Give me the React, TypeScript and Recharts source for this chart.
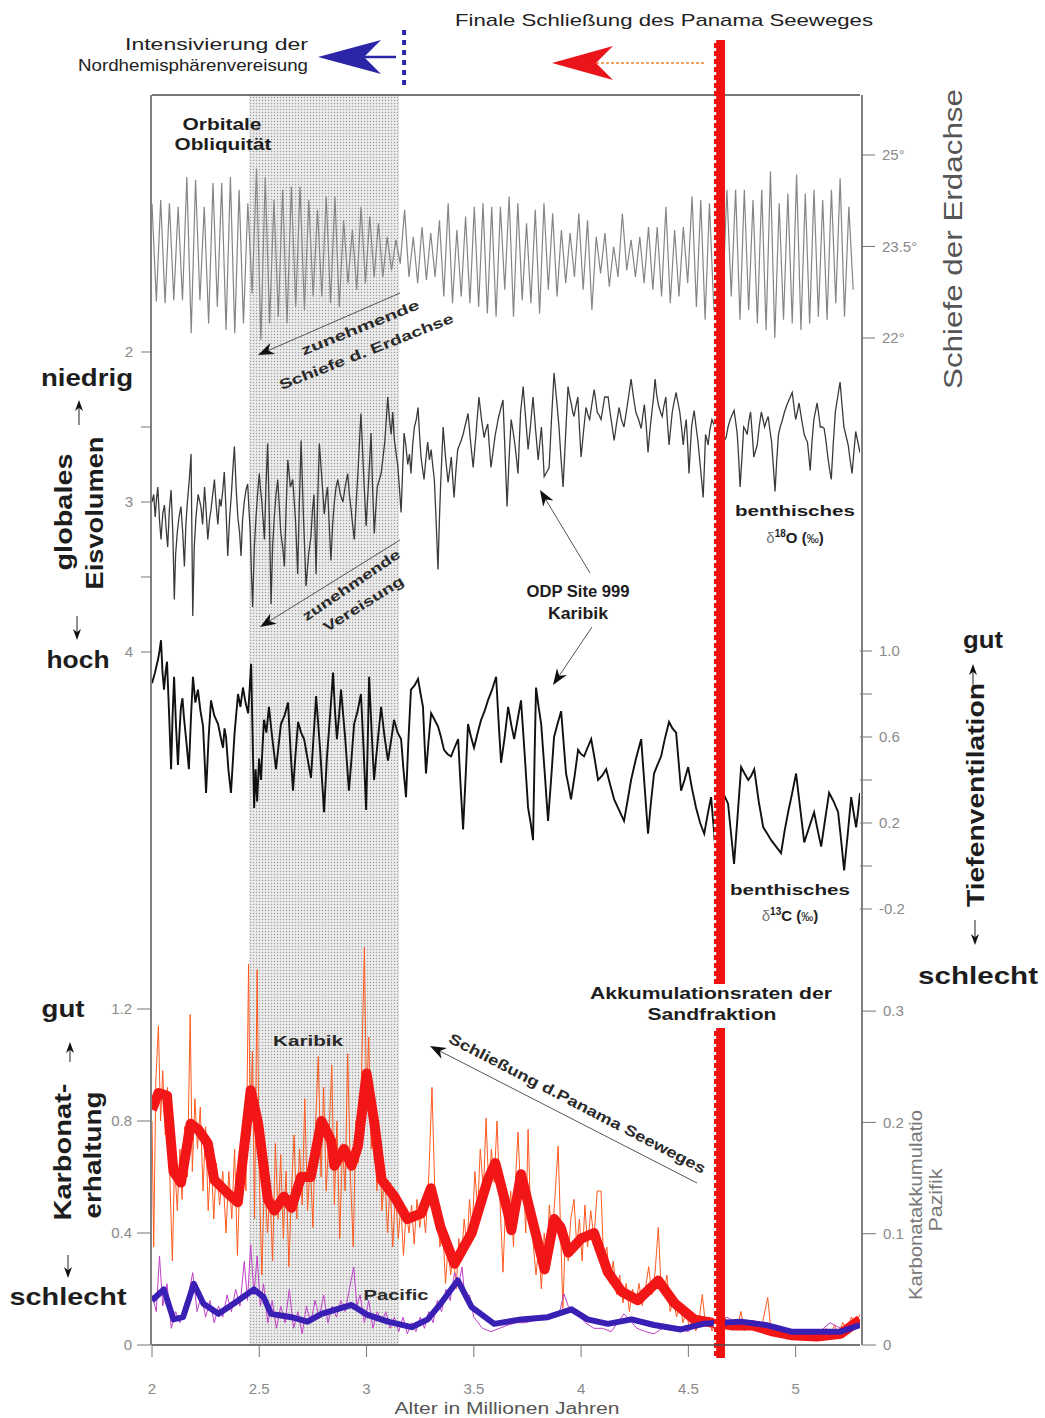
import React from 'react'
import { ComposedChart, Line, XAxis, YAxis, ReferenceArea, ReferenceLine } from 'recharts'

const SANS = '"Liberation Sans", Arial, Helvetica, sans-serif'

// x axis: age in Myr
const AGE_DOMAIN: [number, number] = [2, 5.3]
const AGE_TICKS = [2, 2.5, 3, 3.5, 4, 4.5, 5]

// y domains chosen so each record sits in its own band of the stacked figure
const OBLIQ_DOMAIN: [number, number] = [5.4918, 25.9836]
const D18O_DOMAIN: [number, number] = [0.2867, 8.62]
const D13C_DOMAIN: [number, number] = [-2.228, 3.586]
const KARB_DOMAIN: [number, number] = [0, 4.4643]
const PAC_DOMAIN: [number, number] = [0, 1.1231]

const OBLIQ_TICKS = [22, 23.5, 25]
const D18O_TICKS = [2, 2.5, 3, 3.5, 4]
const D13C_TICKS = [-0.2, 0, 0.2, 0.4, 0.6, 0.8, 1.0]
const D13C_LABELED = [-0.2, 0.2, 0.6, 1.0]
const KARB_TICKS = [0, 0.4, 0.8, 1.2]
const PAC_TICKS = [0, 0.1, 0.2, 0.3]

// obliquity: one max and one min per ~41 kyr cycle, degrees
const OBLIQ_START = 2.0
const OBLIQ_HALF_STEP = 0.0203
const OBLIQ_PEAKS = [
  24.2, 24.26, 24.21, 24.15, 24.64, 24.59, 24.15, 24.54, 24.54, 24.64,
  24.43, 24.21, 24.78, 24.64, 24.26, 24.43, 24.48, 24.48, 24.26, 24.1,
  24.32, 24.32, 23.93, 23.77, 24.15, 23.99, 23.88, 23.66, 23.61, 24.1,
  23.66, 23.82, 23.72, 23.93, 24.21, 23.77, 23.99, 24.15, 24.21, 24.15,
  24.15, 24.32, 24.21, 23.88, 24.1, 24.21, 24.04, 23.77, 23.72, 24.04,
  23.93, 23.66, 23.72, 23.5, 24.04, 23.61, 23.66, 23.82, 23.82, 24.15,
  23.77, 23.82, 24.32, 24.26, 24.21, 24.15, 24.43, 24.43, 24.43, 24.26,
  24.43, 24.73, 24.21, 24.37, 24.68, 24.37, 24.43, 24.26, 24.43, 24.62,
  24.15,
]
const OBLIQ_TROUGHS = [
  22.6, 22.57, 22.62, 22.62, 22.08, 22.62, 22.24, 22.51, 22.13, 22.08,
  22.24, 22.73, 21.97, 22.24, 22.35, 22.24, 22.51, 22.46, 22.68, 22.68,
  22.57, 22.51, 22.9, 22.79, 22.9, 23.0, 23.0, 23.11, 23.22, 23.0,
  22.9, 22.95, 23.0, 22.68, 22.57, 22.68, 22.57, 22.51, 22.4, 22.35,
  22.79, 22.35, 22.62, 22.57, 22.4, 22.79, 22.68, 22.9, 23.0, 22.79,
  22.46, 23.06, 22.84, 23.0, 23.11, 23.0, 22.9, 22.79, 22.68, 22.57,
  22.68, 22.9, 22.51, 22.3, 22.46, 22.57, 22.68, 22.3, 22.46, 22.24,
  22.13, 22.0, 22.3, 22.24, 22.13, 22.24, 22.35, 22.3, 22.57, 22.35,
  22.79,
]

// benthic d18O (per mil), [age, value]
const D18O: [number, number][] = [
  [2.0, 3.0], [2.008, 2.95], [2.015, 3.1], [2.021, 2.98], [2.027, 2.9], [2.035, 3.12], [2.042, 3.25],
  [2.05, 3.08], [2.058, 3.02], [2.066, 3.18], [2.073, 3.3], [2.081, 3.05], [2.089, 2.92], [2.097, 3.2],
  [2.104, 3.65], [2.11, 3.35], [2.118, 3.2], [2.126, 3.1], [2.135, 3.03], [2.143, 3.2], [2.151, 3.43],
  [2.158, 3.15], [2.165, 3.0], [2.174, 2.85], [2.182, 2.68], [2.19, 3.76], [2.197, 3.3], [2.205, 3.1],
  [2.215, 2.95], [2.228, 3.03], [2.236, 3.15], [2.245, 2.9], [2.252, 3.05], [2.26, 3.25], [2.268, 3.12],
  [2.275, 3.05], [2.283, 2.95], [2.291, 2.85], [2.299, 3.02], [2.307, 3.15], [2.315, 2.98], [2.322, 3.03],
  [2.33, 2.92], [2.337, 2.8], [2.345, 3.05], [2.353, 3.36], [2.362, 3.1], [2.37, 2.95], [2.377, 2.78],
  [2.384, 2.63], [2.392, 2.9], [2.4, 3.1], [2.408, 3.2], [2.415, 3.36], [2.422, 3.12], [2.43, 3.0],
  [2.438, 2.92], [2.446, 2.88], [2.452, 3.05], [2.458, 3.2], [2.463, 3.45], [2.469, 3.7], [2.477, 3.3],
  [2.485, 3.1], [2.492, 2.95], [2.5, 2.81], [2.506, 2.92], [2.512, 3.0], [2.518, 3.12], [2.524, 3.25],
  [2.531, 2.9], [2.539, 2.61], [2.547, 3.1], [2.555, 3.68], [2.562, 3.3], [2.57, 3.1], [2.578, 2.95],
  [2.586, 2.85], [2.593, 3.02], [2.6, 3.2], [2.609, 3.3], [2.617, 3.43], [2.625, 3.05], [2.633, 2.72],
  [2.645, 2.9], [2.656, 2.85], [2.662, 2.98], [2.668, 3.1], [2.674, 3.3], [2.679, 3.48], [2.687, 3.0],
  [2.695, 2.59], [2.706, 3.1], [2.718, 3.56], [2.73, 3.35], [2.741, 3.23], [2.748, 3.05], [2.755, 2.95],
  [2.76, 3.2], [2.765, 3.48], [2.772, 3.0], [2.78, 2.61], [2.792, 2.85], [2.803, 3.08], [2.81, 2.98],
  [2.818, 2.9], [2.826, 3.15], [2.834, 3.39], [2.842, 3.15], [2.85, 3.0], [2.858, 2.9], [2.866, 2.85],
  [2.878, 2.95], [2.89, 3.0], [2.9, 2.9], [2.912, 2.81], [2.92, 2.95], [2.928, 3.05], [2.935, 3.15],
  [2.943, 3.25], [2.952, 3.0], [2.96, 2.8], [2.967, 2.6], [2.974, 2.41], [2.986, 2.8], [2.998, 3.16],
  [3.01, 2.85], [3.021, 2.54], [3.028, 2.9], [3.036, 3.21], [3.043, 3.05], [3.05, 2.9], [3.06, 2.85],
  [3.068, 2.81], [3.077, 2.7], [3.085, 2.6], [3.092, 2.45], [3.099, 2.3], [3.107, 2.45], [3.115, 2.55],
  [3.122, 2.4], [3.13, 2.59], [3.138, 2.68], [3.145, 2.75], [3.153, 2.9], [3.161, 3.07], [3.168, 2.8],
  [3.175, 2.54], [3.183, 2.62], [3.192, 2.75], [3.2, 2.68], [3.207, 2.81], [3.215, 2.62], [3.223, 2.5],
  [3.232, 2.45], [3.24, 2.37], [3.247, 2.55], [3.254, 2.7], [3.261, 2.78], [3.268, 2.85], [3.276, 2.72],
  [3.285, 2.6], [3.293, 2.72], [3.301, 2.65], [3.308, 2.75], [3.316, 2.85], [3.325, 3.15], [3.333, 3.45],
  [3.34, 3.1], [3.345, 2.9], [3.351, 2.7], [3.357, 2.5], [3.368, 2.7], [3.38, 2.87], [3.388, 2.78],
  [3.395, 2.7], [3.402, 2.85], [3.408, 2.97], [3.416, 2.8], [3.425, 2.65], [3.433, 2.62], [3.441, 2.59],
  [3.45, 2.55], [3.458, 2.5], [3.465, 2.46], [3.473, 2.41], [3.485, 2.6], [3.497, 2.77], [3.504, 2.65],
  [3.51, 2.55], [3.517, 2.42], [3.524, 2.3], [3.536, 2.45], [3.548, 2.57], [3.556, 2.52], [3.565, 2.48],
  [3.572, 2.62], [3.58, 2.77], [3.59, 2.66], [3.6, 2.55], [3.607, 2.5], [3.613, 2.45], [3.625, 2.38],
  [3.636, 2.32], [3.645, 2.65], [3.655, 3.03], [3.664, 2.72], [3.674, 2.45], [3.682, 2.52], [3.69, 2.6],
  [3.698, 2.7], [3.706, 2.81], [3.712, 2.6], [3.718, 2.4], [3.724, 2.32], [3.73, 2.23], [3.742, 2.45],
  [3.753, 2.65], [3.765, 2.48], [3.776, 2.3], [3.788, 2.52], [3.8, 2.72], [3.808, 2.6], [3.815, 2.5],
  [3.822, 2.66], [3.828, 2.83], [3.84, 2.8], [3.851, 2.77], [3.862, 2.45], [3.874, 2.14], [3.886, 2.32],
  [3.897, 2.5], [3.906, 2.7], [3.916, 2.9], [3.928, 2.55], [3.939, 2.23], [3.947, 2.3], [3.955, 2.35],
  [3.961, 2.4], [3.967, 2.43], [3.976, 2.36], [3.985, 2.3], [3.992, 2.5], [4.0, 2.7], [4.012, 2.52],
  [4.023, 2.37], [4.032, 2.42], [4.04, 2.45], [4.05, 2.35], [4.061, 2.25], [4.068, 2.32], [4.075, 2.4],
  [4.084, 2.42], [4.093, 2.45], [4.101, 2.38], [4.11, 2.3], [4.118, 2.3], [4.126, 2.3], [4.133, 2.38],
  [4.14, 2.45], [4.147, 2.52], [4.154, 2.59], [4.165, 2.48], [4.177, 2.37], [4.188, 2.45], [4.2, 2.5],
  [4.216, 2.35], [4.233, 2.18], [4.244, 2.3], [4.255, 2.4], [4.268, 2.45], [4.28, 2.51], [4.288, 2.42],
  [4.295, 2.35], [4.304, 2.5], [4.312, 2.67], [4.321, 2.52], [4.33, 2.4], [4.338, 2.3], [4.345, 2.18],
  [4.352, 2.28], [4.36, 2.35], [4.37, 2.4], [4.378, 2.43], [4.386, 2.36], [4.395, 2.3], [4.402, 2.46],
  [4.41, 2.62], [4.418, 2.5], [4.425, 2.4], [4.434, 2.33], [4.443, 2.27], [4.452, 2.34], [4.46, 2.4],
  [4.468, 2.5], [4.476, 2.62], [4.483, 2.52], [4.49, 2.45], [4.497, 2.62], [4.503, 2.81], [4.509, 2.65],
  [4.515, 2.5], [4.521, 2.44], [4.527, 2.39], [4.536, 2.5], [4.545, 2.6], [4.557, 2.78], [4.569, 2.97],
  [4.575, 2.75], [4.58, 2.55], [4.586, 2.58], [4.592, 2.62], [4.6, 2.52], [4.61, 2.45], [4.618, 2.48],
  [4.625, 2.51], [4.638, 2.58], [4.65, 2.65], [4.663, 2.6], [4.676, 2.57], [4.685, 2.5], [4.695, 2.45],
  [4.704, 2.42], [4.713, 2.39], [4.72, 2.46], [4.728, 2.55], [4.735, 2.72], [4.741, 2.9], [4.75, 2.7],
  [4.758, 2.5], [4.766, 2.52], [4.774, 2.55], [4.782, 2.46], [4.79, 2.4], [4.798, 2.55], [4.805, 2.7],
  [4.813, 2.66], [4.821, 2.62], [4.83, 2.5], [4.84, 2.4], [4.848, 2.45], [4.855, 2.5], [4.864, 2.46],
  [4.872, 2.43], [4.88, 2.52], [4.888, 2.6], [4.896, 2.76], [4.904, 2.93], [4.912, 2.72], [4.92, 2.55],
  [4.928, 2.5], [4.937, 2.46], [4.948, 2.4], [4.96, 2.35], [4.972, 2.31], [4.984, 2.27], [4.992, 2.36],
  [5.0, 2.45], [5.008, 2.4], [5.016, 2.34], [5.028, 2.45], [5.04, 2.55], [5.048, 2.58], [5.055, 2.6],
  [5.062, 2.7], [5.068, 2.79], [5.076, 2.6], [5.085, 2.45], [5.092, 2.4], [5.1, 2.34], [5.108, 2.42],
  [5.115, 2.5], [5.124, 2.5], [5.133, 2.51], [5.142, 2.6], [5.15, 2.7], [5.158, 2.78], [5.166, 2.85],
  [5.175, 2.62], [5.185, 2.4], [5.196, 2.3], [5.207, 2.2], [5.216, 2.35], [5.225, 2.5], [5.235, 2.56],
  [5.245, 2.62], [5.254, 2.72], [5.263, 2.81], [5.272, 2.66], [5.28, 2.53], [5.29, 2.6], [5.3, 2.67],
]

// benthic d13C (per mil), [age, value]
const D13C: [number, number][] = [
  [2.0, 0.85], [2.014, 0.9], [2.028, 0.96], [2.035, 1.0], [2.042, 1.05], [2.049, 0.9], [2.056, 0.82],
  [2.063, 0.9], [2.07, 0.95], [2.08, 0.7], [2.089, 0.45], [2.096, 0.7], [2.103, 0.88], [2.112, 0.65],
  [2.121, 0.47], [2.128, 0.62], [2.135, 0.74], [2.142, 0.78], [2.149, 0.69], [2.16, 0.58], [2.172, 0.45],
  [2.182, 0.7], [2.191, 0.88], [2.202, 0.76], [2.214, 0.82], [2.226, 0.72], [2.238, 0.65], [2.245, 0.5],
  [2.252, 0.34], [2.264, 0.6], [2.275, 0.77], [2.29, 0.7], [2.308, 0.66], [2.32, 0.6], [2.331, 0.55],
  [2.338, 0.64], [2.345, 0.6], [2.356, 0.45], [2.368, 0.34], [2.385, 0.62], [2.401, 0.8], [2.412, 0.74],
  [2.424, 0.83], [2.436, 0.76], [2.448, 0.71], [2.455, 0.82], [2.462, 0.94], [2.469, 0.6], [2.476, 0.27],
  [2.483, 0.45], [2.49, 0.3], [2.499, 0.5], [2.508, 0.4], [2.515, 0.55], [2.522, 0.68], [2.533, 0.62],
  [2.545, 0.74], [2.56, 0.6], [2.578, 0.45], [2.59, 0.56], [2.601, 0.66], [2.618, 0.7], [2.634, 0.76],
  [2.645, 0.55], [2.657, 0.35], [2.669, 0.52], [2.681, 0.67], [2.695, 0.62], [2.709, 0.59], [2.725, 0.5],
  [2.741, 0.41], [2.753, 0.6], [2.765, 0.79], [2.783, 0.55], [2.802, 0.25], [2.815, 0.5], [2.83, 0.7],
  [2.844, 0.9], [2.853, 0.72], [2.862, 0.59], [2.872, 0.7], [2.881, 0.82], [2.9, 0.6], [2.918, 0.35],
  [2.93, 0.5], [2.942, 0.66], [2.958, 0.72], [2.974, 0.8], [2.986, 0.55], [2.998, 0.26], [3.005, 0.55],
  [3.012, 0.88], [3.024, 0.62], [3.035, 0.4], [3.052, 0.58], [3.068, 0.74], [3.084, 0.6], [3.1, 0.49],
  [3.114, 0.58], [3.128, 0.68], [3.145, 0.62], [3.161, 0.59], [3.172, 0.45], [3.184, 0.32], [3.195, 0.58],
  [3.207, 0.82], [3.224, 0.84], [3.24, 0.87], [3.252, 0.8], [3.263, 0.74], [3.27, 0.58], [3.277, 0.43],
  [3.289, 0.58], [3.301, 0.71], [3.317, 0.68], [3.333, 0.65], [3.347, 0.6], [3.361, 0.54], [3.378, 0.52],
  [3.394, 0.51], [3.41, 0.55], [3.427, 0.59], [3.438, 0.38], [3.45, 0.17], [3.462, 0.42], [3.473, 0.66],
  [3.487, 0.6], [3.501, 0.55], [3.518, 0.62], [3.534, 0.68], [3.55, 0.72], [3.566, 0.77], [3.585, 0.82],
  [3.604, 0.88], [3.615, 0.68], [3.627, 0.48], [3.644, 0.6], [3.66, 0.74], [3.674, 0.66], [3.688, 0.59],
  [3.704, 0.68], [3.72, 0.77], [3.737, 0.52], [3.753, 0.27], [3.765, 0.2], [3.776, 0.12], [3.783, 0.5],
  [3.79, 0.83], [3.802, 0.74], [3.814, 0.66], [3.83, 0.44], [3.846, 0.21], [3.86, 0.4], [3.874, 0.6],
  [3.89, 0.66], [3.907, 0.72], [3.918, 0.58], [3.93, 0.43], [3.942, 0.37], [3.953, 0.31], [3.97, 0.42],
  [3.986, 0.54], [4.0, 0.52], [4.014, 0.51], [4.03, 0.55], [4.047, 0.59], [4.063, 0.5], [4.079, 0.4],
  [4.098, 0.42], [4.117, 0.45], [4.135, 0.38], [4.154, 0.31], [4.177, 0.26], [4.2, 0.21], [4.216, 0.3],
  [4.233, 0.4], [4.256, 0.5], [4.28, 0.59], [4.296, 0.37], [4.312, 0.15], [4.326, 0.3], [4.34, 0.43],
  [4.356, 0.47], [4.373, 0.51], [4.39, 0.59], [4.41, 0.67], [4.426, 0.64], [4.443, 0.62], [4.455, 0.48],
  [4.466, 0.35], [4.482, 0.4], [4.499, 0.46], [4.517, 0.36], [4.536, 0.27], [4.555, 0.2], [4.574, 0.15],
  [4.59, 0.24], [4.606, 0.32], [4.618, 0.18], [4.629, 0.03], [4.643, 0.2], [4.657, 0.35], [4.671, 0.32],
  [4.685, 0.29], [4.699, 0.15], [4.713, 0.01], [4.73, 0.24], [4.746, 0.46], [4.762, 0.43], [4.779, 0.4],
  [4.793, 0.42], [4.807, 0.45], [4.828, 0.3], [4.849, 0.18], [4.868, 0.15], [4.886, 0.12], [4.909, 0.09],
  [4.932, 0.06], [4.948, 0.16], [4.965, 0.25], [4.984, 0.34], [5.002, 0.43], [5.021, 0.27], [5.04, 0.11],
  [5.063, 0.18], [5.086, 0.25], [5.102, 0.17], [5.119, 0.09], [5.138, 0.22], [5.156, 0.34], [5.177, 0.3],
  [5.198, 0.25], [5.212, 0.12], [5.226, -0.02], [5.243, 0.15], [5.259, 0.32], [5.27, 0.25], [5.282, 0.18],
  [5.292, 0.26], [5.3, 0.34],
]

// Karibik carbonate, raw samples and smoothed curve, [age, value]
const KARIBIK_RAW: [number, number][] = [
  [2.0, 0.8], [2.008, 0.35], [2.018, 0.95], [2.03, 1.14], [2.04, 0.8], [2.05, 0.98], [2.062, 0.75],
  [2.072, 0.92], [2.085, 0.55], [2.095, 0.3], [2.105, 0.65], [2.118, 0.48], [2.13, 0.7], [2.14, 0.52],
  [2.152, 0.78], [2.165, 0.6], [2.178, 1.18], [2.188, 0.62], [2.2, 0.88], [2.212, 0.7], [2.225, 0.85],
  [2.238, 0.55], [2.25, 0.78], [2.262, 0.48], [2.275, 0.68], [2.288, 0.45], [2.3, 0.65], [2.315, 0.5],
  [2.33, 0.62], [2.345, 0.4], [2.358, 0.62], [2.372, 0.45], [2.385, 0.7], [2.398, 0.32], [2.41, 0.6],
  [2.425, 0.78], [2.438, 0.55], [2.45, 1.36], [2.458, 0.75], [2.468, 1.05], [2.478, 0.45], [2.49, 1.34],
  [2.5, 0.6], [2.512, 0.25], [2.525, 0.62], [2.538, 0.4], [2.55, 0.55], [2.562, 0.3], [2.575, 0.72],
  [2.588, 0.45], [2.6, 0.68], [2.612, 0.38], [2.625, 0.62], [2.638, 0.28], [2.65, 0.55], [2.662, 0.75],
  [2.675, 0.45], [2.688, 0.7], [2.7, 0.5], [2.712, 0.88], [2.725, 0.48], [2.738, 0.65], [2.75, 0.42],
  [2.762, 0.78], [2.775, 1.03], [2.788, 0.6], [2.8, 0.92], [2.812, 0.55], [2.825, 0.75], [2.838, 1.0],
  [2.85, 0.5], [2.862, 0.8], [2.875, 0.38], [2.888, 0.72], [2.9, 0.55], [2.912, 1.04], [2.925, 0.6],
  [2.938, 0.35], [2.95, 0.8], [2.962, 0.65], [2.975, 0.9], [2.99, 1.42], [3.0, 0.85], [3.01, 1.1],
  [3.022, 0.7], [3.035, 0.88], [3.048, 0.55], [3.06, 0.75], [3.072, 0.48], [3.085, 0.62], [3.098, 0.4],
  [3.11, 0.58], [3.122, 0.35], [3.135, 0.55], [3.148, 0.38], [3.16, 0.5], [3.172, 0.32], [3.185, 0.48],
  [3.198, 0.4], [3.21, 0.5], [3.222, 0.36], [3.235, 0.52], [3.248, 0.42], [3.262, 0.5], [3.275, 0.4],
  [3.29, 0.6], [3.305, 0.92], [3.318, 0.55], [3.33, 0.48], [3.342, 0.35], [3.355, 0.42], [3.368, 0.22],
  [3.38, 0.35], [3.392, 0.25], [3.405, 0.33], [3.418, 0.2], [3.43, 0.38], [3.442, 0.3], [3.455, 0.45],
  [3.468, 0.35], [3.48, 0.52], [3.492, 0.4], [3.505, 0.62], [3.518, 0.48], [3.53, 0.7], [3.545, 0.55],
  [3.557, 0.81], [3.57, 0.55], [3.582, 0.7], [3.595, 0.58], [3.608, 0.8], [3.62, 0.55], [3.636, 0.26],
  [3.648, 0.5], [3.66, 0.42], [3.672, 0.55], [3.685, 0.35], [3.695, 0.6], [3.706, 0.76], [3.718, 0.55],
  [3.73, 0.62], [3.742, 0.4], [3.753, 0.77], [3.765, 0.45], [3.778, 0.35], [3.79, 0.25], [3.802, 0.35],
  [3.815, 0.2], [3.828, 0.4], [3.84, 0.3], [3.852, 0.5], [3.865, 0.38], [3.88, 0.55], [3.893, 0.71],
  [3.905, 0.4], [3.915, 0.13], [3.928, 0.42], [3.94, 0.3], [3.952, 0.45], [3.967, 0.52], [3.98, 0.35],
  [3.992, 0.45], [4.005, 0.3], [4.018, 0.5], [4.03, 0.35], [4.045, 0.48], [4.06, 0.38], [4.075, 0.55],
  [4.093, 0.55], [4.105, 0.3], [4.12, 0.35], [4.135, 0.22], [4.15, 0.3], [4.165, 0.18], [4.18, 0.25],
  [4.195, 0.15], [4.21, 0.22], [4.225, 0.12], [4.24, 0.2], [4.255, 0.15], [4.27, 0.22], [4.285, 0.14],
  [4.3, 0.2], [4.315, 0.28], [4.33, 0.18], [4.345, 0.26], [4.36, 0.42], [4.372, 0.22], [4.385, 0.18],
  [4.4, 0.25], [4.415, 0.12], [4.43, 0.16], [4.445, 0.1], [4.46, 0.15], [4.475, 0.08], [4.49, 0.12],
  [4.505, 0.06], [4.52, 0.1], [4.535, 0.05], [4.55, 0.09], [4.565, 0.18], [4.58, 0.07], [4.595, 0.1],
  [4.61, 0.05], [4.63, 0.09], [4.65, 0.06], [4.67, 0.1], [4.69, 0.06], [4.71, 0.09], [4.73, 0.07],
  [4.745, 0.12], [4.76, 0.05], [4.775, 0.09], [4.79, 0.06], [4.805, 0.08], [4.84, 0.06], [4.87, 0.17],
  [4.885, 0.05], [4.9, 0.07], [4.92, 0.03], [4.94, 0.05], [4.96, 0.02], [4.98, 0.04], [5.0, 0.02],
  [5.02, 0.05], [5.04, 0.02], [5.06, 0.04], [5.08, 0.03], [5.1, 0.05], [5.12, 0.02], [5.14, 0.06],
  [5.16, 0.03], [5.18, 0.07], [5.2, 0.04], [5.22, 0.08], [5.24, 0.05], [5.26, 0.1], [5.28, 0.07],
  [5.3, 0.11],
]

const KARIBIK_SMOOTH: [number, number][] = [
  [2.0, 0.84], [2.03, 0.9], [2.07, 0.89], [2.1, 0.62], [2.135, 0.58], [2.18, 0.79], [2.215, 0.77],
  [2.26, 0.72], [2.29, 0.59], [2.355, 0.54], [2.4, 0.51], [2.46, 0.91], [2.495, 0.79], [2.54, 0.52],
  [2.57, 0.48], [2.615, 0.53], [2.65, 0.49], [2.695, 0.6], [2.74, 0.6], [2.79, 0.8], [2.835, 0.73],
  [2.85, 0.64], [2.895, 0.7], [2.93, 0.64], [2.96, 0.71], [3.0, 0.97], [3.035, 0.8], [3.07, 0.59],
  [3.13, 0.53], [3.19, 0.45], [3.255, 0.47], [3.3, 0.56], [3.345, 0.42], [3.41, 0.29], [3.49, 0.4],
  [3.565, 0.59], [3.6, 0.65], [3.66, 0.47], [3.675, 0.41], [3.72, 0.61], [3.765, 0.47], [3.83, 0.27],
  [3.875, 0.45], [3.905, 0.42], [3.94, 0.33], [4.0, 0.38], [4.06, 0.4], [4.125, 0.26], [4.19, 0.19],
  [4.265, 0.16], [4.36, 0.23], [4.435, 0.15], [4.53, 0.09], [4.61, 0.08], [4.7, 0.07], [4.8, 0.07],
  [4.885, 0.05], [4.98, 0.035], [5.1, 0.03], [5.21, 0.04], [5.3, 0.09],
]

// Pacific carbonate accumulation, raw samples and smoothed curve, [age, value]
const PACIFIC_RAW: [number, number][] = [
  [2.0, 0.045], [2.02, 0.03], [2.035, 0.08], [2.05, 0.035], [2.07, 0.055], [2.09, 0.015], [2.11, 0.03],
  [2.13, 0.02], [2.15, 0.035], [2.17, 0.045], [2.19, 0.065], [2.21, 0.03], [2.23, 0.045], [2.25, 0.025],
  [2.27, 0.04], [2.29, 0.02], [2.31, 0.035], [2.33, 0.025], [2.35, 0.045], [2.37, 0.03], [2.39, 0.05],
  [2.41, 0.035], [2.43, 0.075], [2.445, 0.04], [2.46, 0.09], [2.475, 0.045], [2.49, 0.08], [2.505, 0.035],
  [2.52, 0.055], [2.54, 0.02], [2.56, 0.04], [2.58, 0.015], [2.6, 0.035], [2.62, 0.02], [2.64, 0.05],
  [2.66, 0.015], [2.68, 0.03], [2.7, 0.01], [2.72, 0.035], [2.74, 0.02], [2.76, 0.04], [2.78, 0.025],
  [2.8, 0.045], [2.82, 0.02], [2.84, 0.035], [2.86, 0.025], [2.88, 0.04], [2.9, 0.03], [2.94, 0.07],
  [2.955, 0.035], [2.97, 0.045], [2.99, 0.02], [3.01, 0.04], [3.03, 0.015], [3.05, 0.03], [3.07, 0.02],
  [3.09, 0.03], [3.11, 0.015], [3.13, 0.025], [3.15, 0.012], [3.17, 0.025], [3.19, 0.01], [3.21, 0.02],
  [3.23, 0.012], [3.25, 0.025], [3.27, 0.015], [3.29, 0.03], [3.31, 0.02], [3.33, 0.04], [3.35, 0.03],
  [3.37, 0.05], [3.39, 0.04], [3.41, 0.065], [3.43, 0.055], [3.445, 0.07], [3.46, 0.04], [3.48, 0.045],
  [3.5, 0.025], [3.54, 0.015], [3.58, 0.012], [3.62, 0.015], [3.66, 0.018], [3.7, 0.02], [3.74, 0.02],
  [3.78, 0.022], [3.82, 0.025], [3.86, 0.025], [3.9, 0.03], [3.92, 0.046], [3.94, 0.035], [3.98, 0.028],
  [4.02, 0.02], [4.06, 0.015], [4.1, 0.015], [4.14, 0.012], [4.2, 0.028], [4.26, 0.015], [4.3, 0.012],
  [4.34, 0.01], [4.4, 0.018], [4.44, 0.016], [4.5, 0.012], [4.56, 0.025], [4.62, 0.015], [4.68, 0.025],
  [4.74, 0.018], [4.8, 0.022], [4.86, 0.01], [4.92, 0.014], [4.98, 0.008], [5.04, 0.014], [5.1, 0.01],
  [5.16, 0.02], [5.22, 0.014], [5.3, 0.018],
]

const PACIFIC_SMOOTH: [number, number][] = [
  [2.0, 0.04], [2.055, 0.05], [2.1, 0.023], [2.145, 0.025], [2.195, 0.055], [2.24, 0.037], [2.31, 0.028],
  [2.38, 0.037], [2.475, 0.05], [2.52, 0.043], [2.555, 0.028], [2.65, 0.025], [2.725, 0.021], [2.79, 0.028],
  [2.93, 0.036], [3.005, 0.027], [3.1, 0.021], [3.21, 0.016], [3.285, 0.023], [3.345, 0.037], [3.425, 0.058],
  [3.49, 0.034], [3.595, 0.019], [3.72, 0.023], [3.845, 0.025], [3.955, 0.032], [4.03, 0.023], [4.125, 0.019],
  [4.235, 0.023], [4.34, 0.018], [4.465, 0.014], [4.57, 0.019], [4.745, 0.021], [4.86, 0.018], [4.98, 0.012],
  [5.21, 0.012], [5.3, 0.018],
]

// event markers
const BAND_AGES: [number, number] = [2.455, 3.15]
const PANAMA_AGE = 4.645
const PANAMA_DASH_AGE = 4.624
const NHG_AGE = 3.175

const toPts = (pairs: [number, number][]) => pairs.map(([age, v]) => ({ age, v }))

const obliqData: { age: number; v: number }[] = []
OBLIQ_PEAKS.forEach((p, i) => {
  obliqData.push({ age: OBLIQ_START + 2 * i * OBLIQ_HALF_STEP, v: p })
  obliqData.push({ age: OBLIQ_START + (2 * i + 1) * OBLIQ_HALF_STEP, v: OBLIQ_TROUGHS[i] })
})

const tickStyle = { fill: '#8a8a8a', fontSize: 15, fontFamily: SANS }
const tickLine = { stroke: '#777', strokeWidth: 1 }
const frame = { stroke: '#4a4a4a', strokeWidth: 1.4 }

const near = (a: number, b: number) => Math.abs(a - b) < 1e-6

function T({ x, y, children, size = 16, weight = 700, anchor = 'middle', rotate, len, fill = '#1d1d1d' }: any) {
  return (
    <text
      x={x}
      y={y}
      fontSize={size}
      fontWeight={weight}
      textAnchor={anchor}
      fill={fill}
      fontFamily={SANS}
      transform={rotate ? `rotate(${rotate} ${x} ${y})` : undefined}
      textLength={len}
      lengthAdjust={len ? 'spacingAndGlyphs' : undefined}
    >
      {children}
    </text>
  )
}

function Arrow({ x1, y1, x2, y2, color = '#555', head = 14, spread = 5, width = 1 }: any) {
  const dx = x2 - x1
  const dy = y2 - y1
  const len = Math.hypot(dx, dy)
  const ux = dx / len
  const uy = dy / len
  const px = -uy
  const py = ux
  const bx = x2 - ux * head
  const by = y2 - uy * head
  const nx = x2 - ux * head * 0.7
  const ny = y2 - uy * head * 0.7
  const pts = [
    [x2, y2],
    [bx + px * spread, by + py * spread],
    [nx, ny],
    [bx - px * spread, by - py * spread],
  ]
    .map((p) => p.join(','))
    .join(' ')
  return (
    <g>
      <line x1={x1} y1={y1} x2={nx} y2={ny} stroke={color} strokeWidth={width} />
      <polygon points={pts} fill="#111" />
    </g>
  )
}

function Annotations() {
  return (
    <svg width={1045} height={1418} style={{ position: 'absolute', left: 0, top: 0, pointerEvents: 'none' }}>
      <T x={664} y={26} size={17} weight={400} len={418} fill="#222">Finale Schließung des Panama Seeweges</T>
      <T x={308} y={50} size={17} weight={400} anchor="end" len={183} fill="#222">Intensivierung der</T>
      <T x={308} y={71} size={17} weight={400} anchor="end" len={230} fill="#222">Nordhemisphärenvereisung</T>

      {/* blue arrow */}
      <line x1={362} y1={57} x2={396} y2={57} stroke="#2b25a8" strokeWidth={2.5} />
      <polygon points="318,57 381,40 364,57 381,74" fill="#2b25a8" />
      {/* red arrow */}
      <line x1={596} y1={63} x2={706} y2={63} stroke="#f0a060" strokeWidth={2} strokeDasharray="3 2" />
      <polygon points="552,63 613,46 596,63 613,80" fill="#ea151b" />

      <T x={222} y={130} size={16} len={79}>Orbitale</T>
      <T x={223} y={150} size={16} len={97}>Obliquität</T>
      <T x={962} y={239} size={26} weight={400} rotate={-90} len={300} fill="#555">Schiefe der Erdachse</T>

      <T x={87} y={386} size={24} len={92}>niedrig</T>
      <Arrow x1={79} y1={425} x2={79} y2={400} head={11} spread={4} color="#222" />
      <T x={72} y={512} size={24} rotate={-90} len={117}>globales</T>
      <T x={103} y={513} size={24} rotate={-90} len={153}>Eisvolumen</T>
      <Arrow x1={77} y1={616} x2={77} y2={640} head={11} spread={4} color="#222" />
      <T x={78} y={668} size={24} len={63}>hoch</T>

      <T x={362} y={332} size={14} rotate={-21.9} len={126} fill="#2a2a2a">zunehmende</T>
      <T x={368} y={356} size={14} rotate={-21.5} len={186} fill="#2a2a2a">Schiefe d. Erdachse</T>
      <Arrow x1={400} y1={293} x2={258} y2={355} head={16} spread={6} />

      <T x={354} y={589} size={14} rotate={-34.4} len={115} fill="#2a2a2a">zunehmende</T>
      <T x={366} y={608} size={14} rotate={-32} len={92} fill="#2a2a2a">Vereisung</T>
      <Arrow x1={400} y1={540} x2={260} y2={627} head={16} spread={6} />

      <T x={795} y={516} size={15} len={120}>benthisches</T>
      <text x={795} y={543} fontSize={15} fontWeight={700} textAnchor="middle" fill="#1d1d1d" fontFamily={SANS}>
        <tspan fontWeight={400} fill="#777">δ</tspan>
        <tspan fontSize={10} dy={-6}>18</tspan>
        <tspan dy={6}>O (</tspan>
        <tspan fontWeight={400} fontSize={12}>‰</tspan>
        <tspan>)</tspan>
      </text>

      <T x={578} y={597} size={16} len={103}>ODP Site 999</T>
      <T x={578} y={619} size={16} len={60}>Karibik</T>
      <Arrow x1={590} y1={573} x2={540} y2={490} head={16} spread={6} />
      <Arrow x1={592} y1={627} x2={553} y2={685} head={16} spread={6} />

      <T x={983} y={648} size={24} len={40}>gut</T>
      <Arrow x1={973} y1={690} x2={973} y2={664} head={11} spread={4} color="#222" />
      <T x={984} y={795} size={24} rotate={-90} len={224}>Tiefenventilation</T>
      <Arrow x1={975} y1={920} x2={975} y2={945} head={11} spread={4} color="#222" />
      <T x={978} y={984} size={24} len={120}>schlecht</T>

      <T x={790} y={895} size={15} len={120}>benthisches</T>
      <text x={790} y={921} fontSize={15} fontWeight={700} textAnchor="middle" fill="#1d1d1d" fontFamily={SANS}>
        <tspan fontWeight={400} fill="#777">δ</tspan>
        <tspan fontSize={10} dy={-6}>13</tspan>
        <tspan dy={6}>C (</tspan>
        <tspan fontWeight={400} fontSize={12}>‰</tspan>
        <tspan>)</tspan>
      </text>

      <T x={711} y={999} size={16} len={242}>Akkumulationsraten der</T>
      <T x={712} y={1020} size={16} len={129}>Sandfraktion</T>

      <T x={63} y={1017} size={24} len={43}>gut</T>
      <Arrow x1={70} y1={1062} x2={70} y2={1042} head={11} spread={4} color="#222" />
      <T x={71} y={1152} size={24} rotate={-90} len={137}>Karbonat-</T>
      <T x={101} y={1155} size={24} rotate={-90} len={127}>erhaltung</T>
      <Arrow x1={68} y1={1255} x2={68} y2={1278} head={11} spread={4} color="#222" />
      <T x={68} y={1305} size={24} len={117}>schlecht</T>

      <T x={308} y={1046} size={15} len={70} fill="#2a2a2a">Karibik</T>
      <T x={396} y={1300} size={15} len={65} fill="#2a2a2a">Pacific</T>
      <T x={575} y={1108} size={15} rotate={27.4} len={287} fill="#2a2a2a">Schließung d.Panama Seeweges</T>
      <Arrow x1={697} y1={1183} x2={430} y2={1046} head={16} spread={6} />

      <T x={922} y={1205} size={18} weight={400} rotate={-90} len={190} fill="#7a7a7a">Karbonatakkumulatio</T>
      <T x={942} y={1200} size={18} weight={400} rotate={-90} len={63} fill="#7a7a7a">Pazifik</T>

      <T x={507} y={1414} size={16} weight={400} len={225} fill="#555">Alter in Millionen Jahren</T>
    </svg>
  )
}

export default function App() {
  return (
    <div style={{ position: 'absolute', left: 0, top: 0, width: 1045, height: 1418, background: '#fff' }}>
      <svg width={0} height={0} style={{ position: 'absolute' }}>
        <defs>
          <pattern id="dotband" width={3} height={3} patternUnits="userSpaceOnUse">
            <rect width={3} height={3} fill="#ececec" />
            <circle cx={1.5} cy={1.5} r={0.75} fill="#a0a0a0" />
          </pattern>
        </defs>
      </svg>
      <ComposedChart width={1045} height={1418} margin={{ top: 95, right: 182, bottom: 72, left: 150 }}>
        <XAxis
          xAxisId="age"
          dataKey="age"
          type="number"
          domain={AGE_DOMAIN}
          allowDataOverflow
          ticks={AGE_TICKS}
          tickFormatter={(v) => String(v)}
          height={1}
          tickSize={12}
          tickMargin={26}
          tick={tickStyle}
          tickLine={tickLine}
          axisLine={frame}
        />
        <YAxis
          yAxisId="pac"
          orientation="right"
          type="number"
          domain={PAC_DOMAIN}
          allowDataOverflow
          ticks={PAC_TICKS}
          tickFormatter={(v) => (v === 0 ? '0' : v.toFixed(1))}
          width={1}
          tickSize={14}
          tickMargin={7}
          tick={tickStyle}
          tickLine={tickLine}
          axisLine={frame}
        />
        <YAxis
          yAxisId="obliq"
          orientation="right"
          type="number"
          domain={OBLIQ_DOMAIN}
          allowDataOverflow
          ticks={OBLIQ_TICKS}
          tickFormatter={(v) => `${v}°`}
          width={1}
          tickSize={14}
          tickMargin={7}
          tick={tickStyle}
          tickLine={tickLine}
          axisLine={false}
        />
        <YAxis
          yAxisId="d13c"
          orientation="right"
          type="number"
          domain={D13C_DOMAIN}
          allowDataOverflow
          ticks={D13C_TICKS}
          tickFormatter={(v) => (D13C_LABELED.some((t) => near(t, v)) ? v.toFixed(1) : '')}
          width={1}
          tickSize={12}
          tickMargin={7}
          tick={tickStyle}
          tickLine={tickLine}
          axisLine={false}
        />
        <YAxis
          yAxisId="karb"
          orientation="left"
          type="number"
          domain={KARB_DOMAIN}
          allowDataOverflow
          ticks={KARB_TICKS}
          tickFormatter={(v) => (v === 0 ? '0' : v.toFixed(1))}
          width={1}
          tickSize={14}
          tickMargin={5}
          tick={tickStyle}
          tickLine={tickLine}
          axisLine={frame}
        />
        <YAxis
          yAxisId="d18o"
          orientation="left"
          type="number"
          reversed
          domain={D18O_DOMAIN}
          allowDataOverflow
          ticks={D18O_TICKS}
          tickFormatter={(v) => (Number.isInteger(v) ? String(v) : '')}
          width={1}
          tickSize={11}
          tickMargin={8}
          tick={tickStyle}
          tickLine={tickLine}
          axisLine={false}
        />

        <ReferenceArea
          xAxisId="age"
          yAxisId="karb"
          x1={BAND_AGES[0]}
          x2={BAND_AGES[1]}
          fill="url(#dotband)"
          fillOpacity={1}
          stroke="#c8c8c8"
          strokeDasharray="1 2"
        />
        <ReferenceLine xAxisId="age" yAxisId="karb" y={KARB_DOMAIN[1]} stroke="#4a4a4a" strokeWidth={1.4} ifOverflow="visible" />

        <Line xAxisId="age" yAxisId="obliq" data={obliqData} dataKey="v" type="linear" stroke="#858585" strokeWidth={1.2} dot={false} isAnimationActive={false} />
        <Line xAxisId="age" yAxisId="d18o" data={toPts(D18O)} dataKey="v" type="linear" stroke="#3a3a3a" strokeWidth={1.3} dot={false} isAnimationActive={false} />
        <Line xAxisId="age" yAxisId="d13c" data={toPts(D13C)} dataKey="v" type="linear" stroke="#111" strokeWidth={1.9} dot={false} isAnimationActive={false} />
        <Line xAxisId="age" yAxisId="karb" data={toPts(KARIBIK_RAW)} dataKey="v" type="linear" stroke="#ff5a1f" strokeWidth={1} dot={false} isAnimationActive={false} />
        <Line xAxisId="age" yAxisId="pac" data={toPts(PACIFIC_RAW)} dataKey="v" type="linear" stroke="#c040c8" strokeWidth={1} dot={false} isAnimationActive={false} />
        <Line xAxisId="age" yAxisId="karb" data={toPts(KARIBIK_SMOOTH)} dataKey="v" type="linear" stroke="#f31616" strokeWidth={10} strokeLinejoin="round" dot={false} isAnimationActive={false} />
        <Line xAxisId="age" yAxisId="pac" data={toPts(PACIFIC_SMOOTH)} dataKey="v" type="linear" stroke="#3a1fb5" strokeWidth={6} strokeLinejoin="round" dot={false} isAnimationActive={false} />

        {/* Panama closure marker, interrupted by the sand-fraction caption */}
        <ReferenceLine xAxisId="age" yAxisId="karb" ifOverflow="visible" stroke="#f01010" strokeWidth={11}
          segment={[{ x: PANAMA_AGE, y: 4.661 }, { x: PANAMA_AGE, y: 1.289 }]} />
        <ReferenceLine xAxisId="age" yAxisId="karb" ifOverflow="visible" stroke="#f01010" strokeWidth={11}
          segment={[{ x: PANAMA_AGE, y: 1.132 }, { x: PANAMA_AGE, y: -0.046 }]} />
        <ReferenceLine xAxisId="age" yAxisId="karb" ifOverflow="visible" stroke="#fff" strokeWidth={2.5} strokeDasharray="3 5"
          segment={[{ x: PANAMA_DASH_AGE, y: 4.661 }, { x: PANAMA_DASH_AGE, y: 1.289 }]} />
        <ReferenceLine xAxisId="age" yAxisId="karb" ifOverflow="visible" stroke="#fff" strokeWidth={2.5} strokeDasharray="3 5"
          segment={[{ x: PANAMA_DASH_AGE, y: 1.132 }, { x: PANAMA_DASH_AGE, y: -0.046 }]} />
        {/* onset of northern hemisphere glaciation */}
        <ReferenceLine xAxisId="age" yAxisId="karb" ifOverflow="visible" stroke="#2b25a8" strokeWidth={4} strokeDasharray="5 5"
          segment={[{ x: NHG_AGE, y: 4.696 }, { x: NHG_AGE, y: 4.496 }]} />
      </ComposedChart>
      <Annotations />
    </div>
  )
}
